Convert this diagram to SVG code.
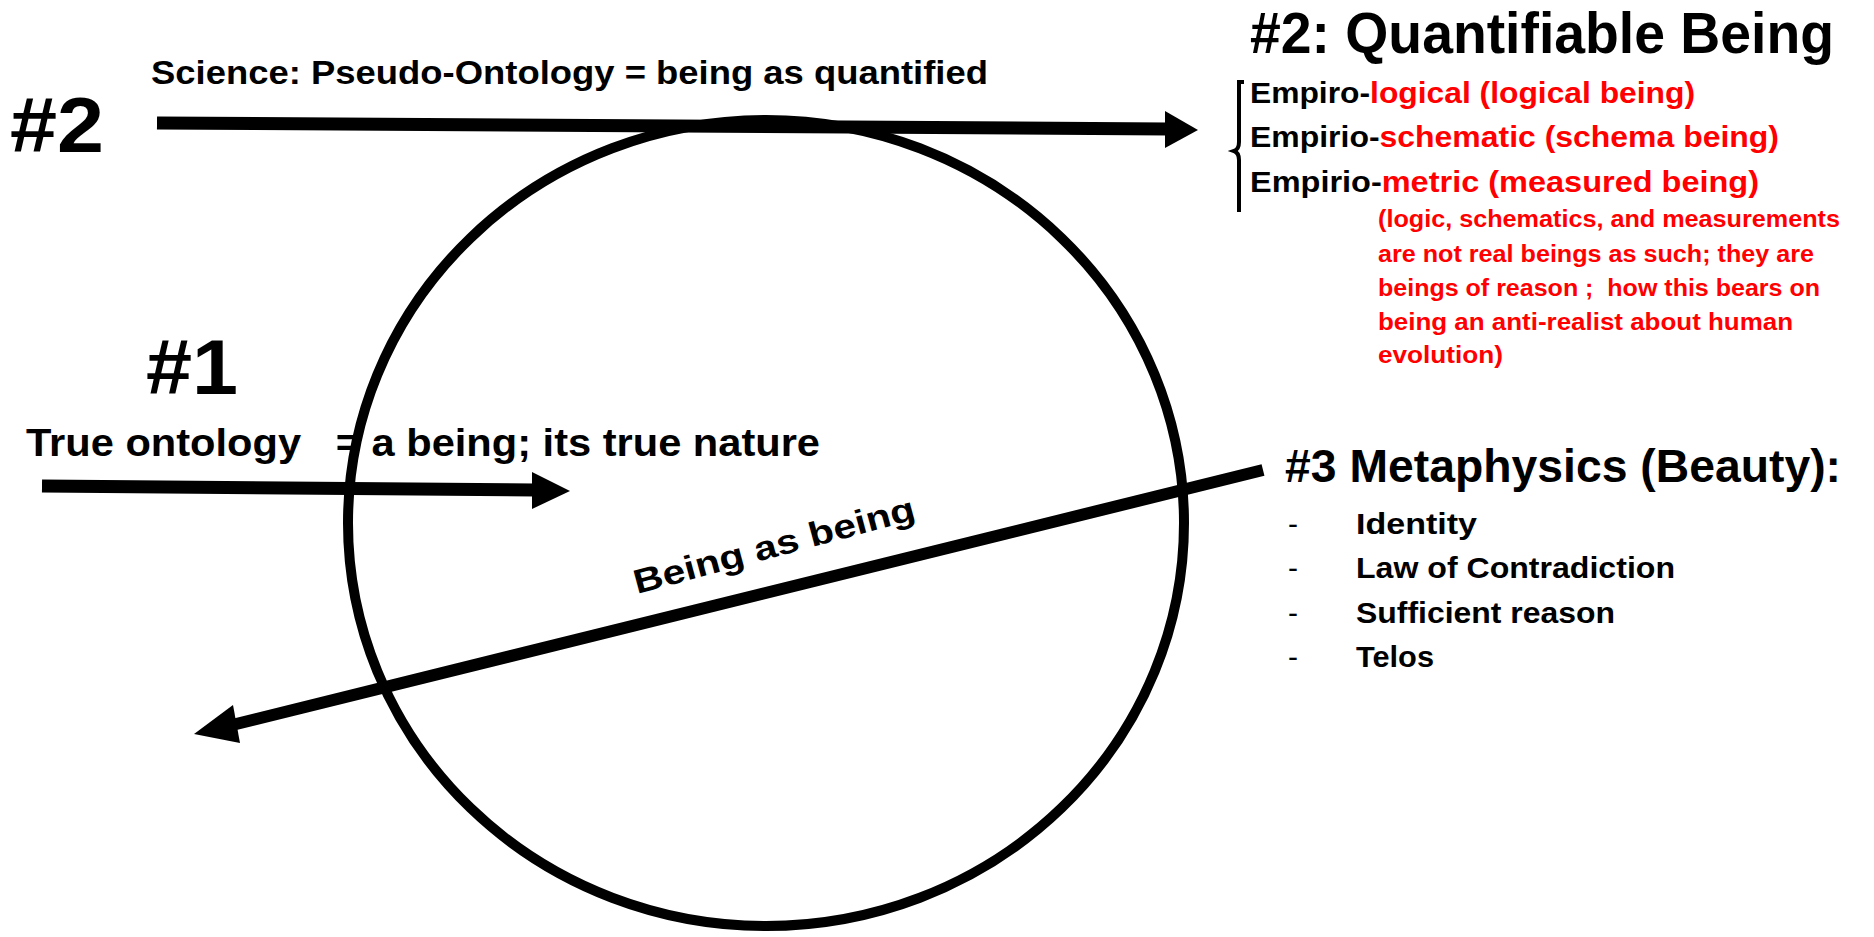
<svg xmlns="http://www.w3.org/2000/svg" width="1874" height="937" viewBox="0 0 1874 937">
<style>
text{font-family:"Liberation Sans",Arial,sans-serif;font-weight:bold;fill:#000}
.r{fill:#ff0000}
.d{font-weight:normal}
.ln{stroke:#000;fill:none}
</style>
<rect width="1874" height="937" fill="#fff"/>
<g id="circle"><ellipse cx="766" cy="523" rx="418" ry="403" class="ln" stroke-width="10"/></g>
<g id="connectors">
<line x1="157" y1="123" x2="1168" y2="129" class="ln" stroke-width="13"/>
<polygon points="1165,111 1198,130 1165,148"/>
<line x1="42" y1="486" x2="535" y2="490" class="ln" stroke-width="13"/>
<polygon points="532,472 570,491 532,509"/>
<line x1="1263" y1="470" x2="228" y2="726" class="ln" stroke-width="12"/>
<polygon points="233,705 194,734 240,743"/>
</g>
<g id="label-2-left"><text x="10" y="152" font-size="78" textLength="94" lengthAdjust="spacingAndGlyphs">#2</text></g>
<g id="science"><text x="151" y="84" font-size="33" textLength="837" lengthAdjust="spacingAndGlyphs">Science: Pseudo-Ontology = being as quantified</text></g>
<g id="quantifiable">
<text x="1250" y="53" font-size="58" textLength="584" lengthAdjust="spacingAndGlyphs">#2: Quantifiable Being</text>
<path d="M1244,82 L1239,82 L1239,142 C1239,148 1237,150 1234,151 C1237,152 1239,154 1239,160 L1239,212" class="ln" stroke-width="4"/>
<text x="1250" y="103" font-size="30" textLength="445" lengthAdjust="spacingAndGlyphs">Empiro-<tspan class="r">logical (logical being)</tspan></text>
<text x="1250" y="147" font-size="30" textLength="529" lengthAdjust="spacingAndGlyphs">Empirio-<tspan class="r">schematic (schema being)</tspan></text>
<text x="1250" y="192" font-size="30" textLength="509" lengthAdjust="spacingAndGlyphs">Empirio-<tspan class="r">metric (measured being)</tspan></text>
<text class="r" x="1378" y="227" font-size="23" textLength="462" lengthAdjust="spacingAndGlyphs">(logic, schematics, and measurements</text>
<text class="r" x="1378" y="262" font-size="23" textLength="436" lengthAdjust="spacingAndGlyphs">are not real beings as such; they are</text>
<text class="r" x="1378" y="296" font-size="23" textLength="442" lengthAdjust="spacingAndGlyphs" xml:space="preserve">beings of reason ;  how this bears on</text>
<text class="r" x="1378" y="330" font-size="23" textLength="415" lengthAdjust="spacingAndGlyphs">being an anti-realist about human</text>
<text class="r" x="1378" y="363" font-size="23" textLength="125" lengthAdjust="spacingAndGlyphs">evolution)</text>
</g>
<g id="label-1"><text x="146" y="394" font-size="78" textLength="92" lengthAdjust="spacingAndGlyphs">#1</text></g>
<g id="true-ontology"><text x="26" y="456" font-size="38" textLength="794" lengthAdjust="spacingAndGlyphs" xml:space="preserve">True ontology   = a being; its true nature</text></g>
<g id="metaphysics">
<text x="1285" y="482" font-size="47" textLength="556" lengthAdjust="spacingAndGlyphs">#3 Metaphysics (Beauty):</text>
<text class="d" x="1288" y="534" font-size="30">-</text><text x="1356" y="534" font-size="30" textLength="121" lengthAdjust="spacingAndGlyphs">Identity</text>
<text class="d" x="1288" y="578" font-size="30">-</text><text x="1356" y="578" font-size="30" textLength="319" lengthAdjust="spacingAndGlyphs">Law of Contradiction</text>
<text class="d" x="1288" y="623" font-size="30">-</text><text x="1356" y="623" font-size="30" textLength="259" lengthAdjust="spacingAndGlyphs">Sufficient reason</text>
<text class="d" x="1288" y="667" font-size="30">-</text><text x="1356" y="667" font-size="30" textLength="78" lengthAdjust="spacingAndGlyphs">Telos</text>
</g>
<g id="being-as-being"><text x="0" y="0" font-size="34" textLength="290" lengthAdjust="spacingAndGlyphs" transform="translate(637,594) rotate(-15)">Being as being</text></g>
</svg>
